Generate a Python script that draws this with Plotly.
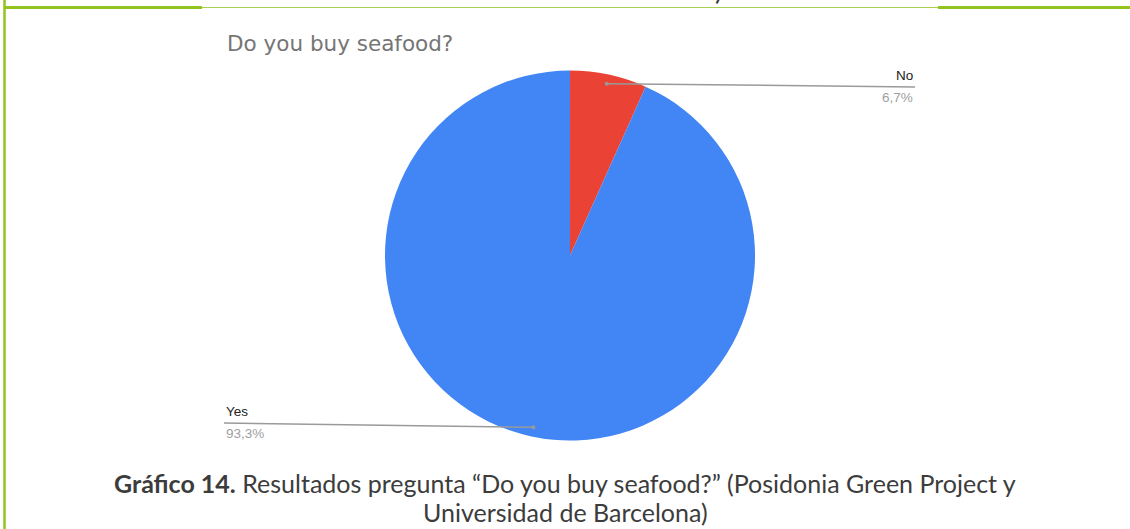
import math
import plotly.graph_objects as go

# Survey answers
labels = ["No", "Yes"]
shares = [6.7, 93.3]
pct_text = ["6,7%", "93,3%"]
slice_colors = ["#EA4335", "#4285F4"]

W, H = 1130, 529
CX, CY, R = 570, 255.5, 185  # pie centre / radius in pixels


def px(x):
    return x / W


def py(y):
    return 1 - y / H


fig = go.Figure()
fig.add_trace(go.Pie(
    labels=labels,
    values=shares,
    sort=False,
    direction="clockwise",
    rotation=0,
    marker=dict(colors=slice_colors, line=dict(width=0)),
    textinfo="none",
    hoverinfo="label+percent",
    showlegend=False,
    domain=dict(x=[px(CX - R), px(CX + R)], y=[py(CY + R), py(CY - R)]),
))

shapes = []
annotations = []

# leader lines: dot on each slice's mid-angle, line out to its label
label_pos = {"No": (915, 87, "right"), "Yes": (224, 423, "left")}
total = sum(shares)
cum = 0.0
for lab, v, pt in zip(labels, shares, pct_text):
    mid = (cum + v / 2) / total * 2 * math.pi
    cum += v
    dx = CX + 0.95 * R * math.sin(mid)
    dy = CY - 0.95 * R * math.cos(mid)
    lx, ly, side = label_pos[lab]
    shapes.append(dict(type="line", xref="paper", yref="paper",
                       x0=px(dx), y0=py(dy), x1=px(lx), y1=py(ly),
                       line=dict(color="#9a9a9a", width=1.5)))
    shapes.append(dict(type="circle", xref="paper", yref="paper",
                       x0=px(dx - 2), y0=py(dy - 2), x1=px(dx + 2), y1=py(dy + 2),
                       fillcolor="#9a9a9a", line=dict(width=0)))
    annotations.append(dict(text=lab, x=px(lx), y=py(ly - 2), xref="paper", yref="paper",
                            xanchor=side, yanchor="bottom", showarrow=False,
                            font=dict(family="Liberation Sans, Arial", size=13.5, color="#222222")))
    annotations.append(dict(text=pt, x=px(lx), y=py(ly + 1), xref="paper", yref="paper",
                            xanchor=side, yanchor="top", showarrow=False,
                            font=dict(family="Liberation Sans, Arial", size=13.5, color="#9e9e9e")))

# chart title
annotations.append(dict(text="Do you buy seafood?", x=px(225), y=py(43), xref="paper", yref="paper",
                        xanchor="left", yanchor="middle", showarrow=False,
                        font=dict(family="DejaVu Sans", size=21.5, color="#757575")))

cap_font = dict(family="Lato, Open Sans", size=25, color="#3c3c3c")
# caption below the chart
annotations.append(dict(
    text="<b>Gráfico 14.</b> Resultados pregunta “Do you buy seafood?” (Posidonia Green Project y",
    x=px(565), y=py(483), xref="paper", yref="paper", xanchor="center", yanchor="middle",
    showarrow=False, font=cap_font))
annotations.append(dict(
    text="Universidad de Barcelona)",
    x=px(565), y=py(512), xref="paper", yref="paper", xanchor="center", yanchor="middle",
    showarrow=False, font=cap_font))
# tail of the previous caption, running off the top edge
annotations.append(dict(
    text="Universidad de Barcelona)",
    x=px(568), y=py(7.5), xref="paper", yref="paper", xanchor="center", yanchor="bottom",
    showarrow=False, font=dict(family="Lato, Open Sans", size=27, color="#3c3c3c")))

# green frame
green = "#92C320"
shapes += [
    dict(type="line", xref="paper", yref="paper", x0=px(4.5), x1=px(4.5), y0=0, y1=1.02,
         line=dict(color=green, width=2.5)),
    dict(type="line", xref="paper", yref="paper", x0=px(4), x1=px(202), y0=py(7.5), y1=py(7.5),
         line=dict(color=green, width=3)),
    dict(type="line", xref="paper", yref="paper", x0=px(202), x1=px(938), y0=py(7.5), y1=py(7.5),
         line=dict(color="#A9CF4E", width=1)),
    dict(type="line", xref="paper", yref="paper", x0=px(938), x1=1, y0=py(7.5), y1=py(7.5),
         line=dict(color=green, width=3)),
]

fig.update_layout(
    width=W, height=H,
    margin=dict(l=0, r=0, t=0, b=0),
    paper_bgcolor="white", plot_bgcolor="white",
    shapes=shapes, annotations=annotations,
)
fig.write_html("out.html")
